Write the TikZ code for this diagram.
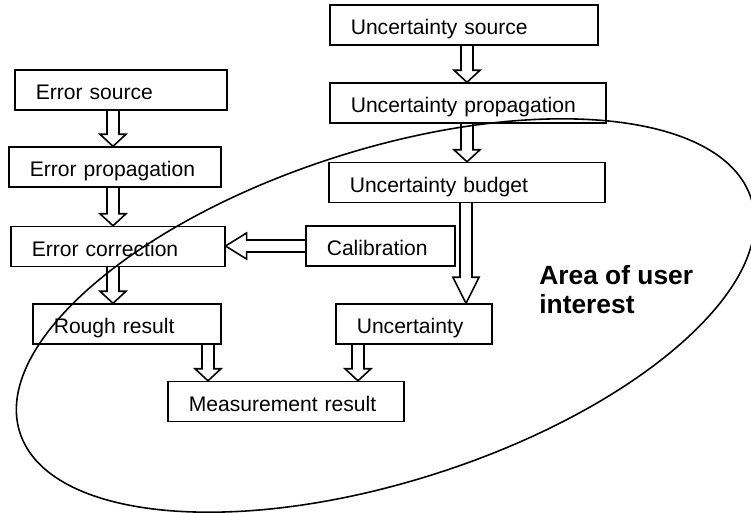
\documentclass[tikz,border=0pt]{standalone}
\usepackage{fontspec}
\setmainfont{Liberation Sans}
\usetikzlibrary{calc}
\tikzset{
  box/.style ={rectangle, draw, line width=0.9pt, anchor=west, align=left,
               inner xsep=0.42cm, inner ysep=0pt, text height=17pt, text depth=5.7pt,
               font=\fontsize{12}{14}\selectfont},
  blk/.style ={draw, line width=0.9pt, line join=miter},
  zone/.style={draw, line width=0.9pt},
  note/.style={anchor=north west, align=left, inner sep=0pt,
               font=\fontsize{15}{16.5}\selectfont\bfseries}
}
% hollow block arrows: [head length]{x or y}{from}{to}
\newcommand{\blkdown}[4][12]{%
  \draw[blk] ($(#2,0 |- #3.south)+(-6,0)$) -- ($(#2,0 |- #4.north)+(-6,-#1)$)
    -- ++(-7,0) -- (#2,0 |- #4.north) -- ++(13,-#1) -- ++(-7,0)
    -- ($(#2,0 |- #3.south)+(6,0)$);}
\newcommand{\blkleft}[4][12]{%
  \draw[blk] ($(#3.west |- 0,#2)+(0,-6)$) -- ($(#4.east |- 0,#2)+(#1,-6)$)
    -- ++(0,-7) -- (#4.east |- 0,#2) -- ++(#1,13) -- ++(0,-7)
    -- ($(#3.west |- 0,#2)+(0,6)$);}
\begin{document}
\begin{tikzpicture}[x=0.02cm, y=-0.02cm]
\useasboundingbox (0,0) rectangle (751,512);

% error chain
\node[box, text width=3.40cm] (esrc)  at (14,90)    {Error source};
\node[box, text width=3.40cm] (eprop) at (8,167)    {Error propagation};
\node[box, text width=3.44cm] (ecorr) at (10,246.5) {Error correction};
\node[box, text width=2.92cm] (rough) at (32,324)   {Rough result};

% uncertainty chain
\node[box, text width=4.52cm] (usrc)  at (329,25)    {Uncertainty source};
\node[box, text width=4.68cm] (uprop) at (329,103)   {Uncertainty propagation};
\node[box, text width=4.68cm] (ubud)  at (328,182.5) {Uncertainty budget};
\node[box, text width=2.14cm] (calib) at (305,246)   {Calibration};
\node[box, text width=2.28cm] (unc)   at (335,324)   {Uncertainty};

\node[box, text width=3.88cm] (meas)  at (167,401.5) {Measurement result};

\blkdown{113}{esrc}{eprop}
\blkdown{113}{eprop}{ecorr}
\blkdown{113}{ecorr}{rough}
\blkdown{467}{usrc}{uprop}
\blkdown{467}{uprop}{ubud}
\blkdown[26]{466}{ubud}{unc}
\blkdown{208}{rough}{meas}
\blkdown{358}{unc}{meas}
\blkleft[21]{246}{calib}{ecorr}

% area of user interest
\draw[zone, rotate around={17.75:(385.5,315.5)}] (385.5,315.5) ellipse [x radius=7.68cm, y radius=3.32cm];
\node[note] (area) at (539,265) {Area of user\\interest};
\end{tikzpicture}
\end{document}
